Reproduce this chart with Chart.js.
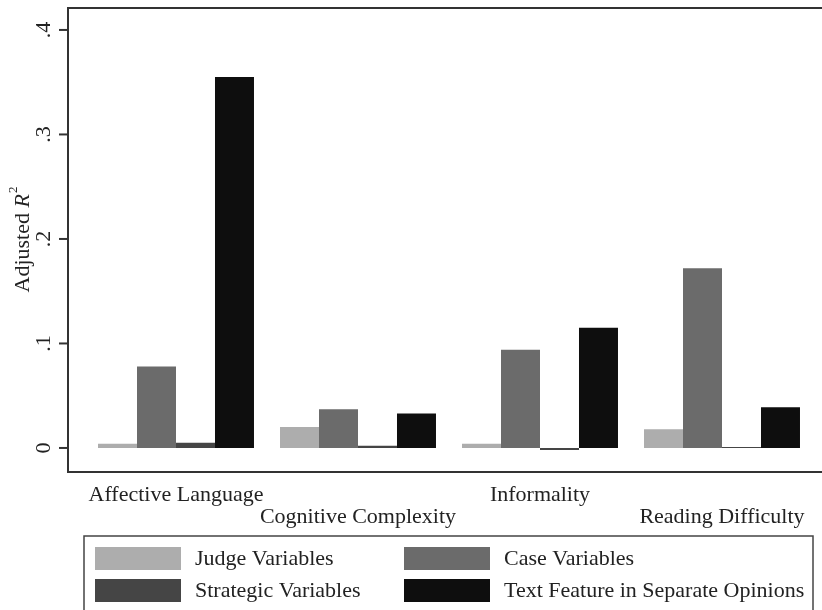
<!DOCTYPE html>
<html>
<head>
<meta charset="utf-8">
<script src="https://cdn.jsdelivr.net/npm/chart.js@4.4.1/dist/chart.umd.min.js"></script>
<style>
  body { margin: 0; background: #fff; }
  canvas { display: block; }
</style>
</head>
<body>
<canvas id="r2Chart" width="822" height="610"></canvas>
<script>
// Text features on the x axis
const categories = ['Affective Language', 'Cognitive Complexity', 'Informality', 'Reading Difficulty'];

// Adjusted R^2 for each group of predictors
const judgeValues = [0.004, 0.020, 0.004, 0.018];
const caseValues = [0.078, 0.037, 0.094, 0.172];
const strategicValues = [0.005, 0.002, -0.002, 0.001];
const textValues = [0.355, 0.033, 0.115, 0.039];

const seriesNames = ['Judge Variables', 'Case Variables', 'Strategic Variables', 'Text Feature in Separate Opinions'];
const seriesColors = ['#adadad', '#6b6b6b', '#454545', '#0e0e0e'];

// y axis ticks
const yTicks = [0, 0.1, 0.2, 0.3, 0.4];
const yTickLabels = ['0', '.1', '.2', '.3', '.4'];

const serif = '"Liberation Serif", "Times New Roman", serif';

// Draws the Stata-like frame, axis ticks, category labels and the legend box
const stataDecor = {
    id: 'stataDecor',
    afterDraw(chart) {
        const c = chart.ctx;
        const area = chart.chartArea;
        const y = chart.scales.y;
        const x = chart.scales.x;
        const frameLeft = 68;
        const frameTop = y.getPixelForValue(y.max);
        const frameBottom = y.getPixelForValue(y.min);

        c.save();
        c.strokeStyle = '#333';
        c.lineWidth = 2;
        c.beginPath();
        c.moveTo(chart.width, frameTop);
        c.lineTo(frameLeft, frameTop);
        c.lineTo(frameLeft, frameBottom);
        c.lineTo(chart.width, frameBottom);
        c.stroke();

        // y ticks + rotated labels
        c.fillStyle = '#222';
        c.font = '22px ' + serif;
        c.textAlign = 'center';
        c.textBaseline = 'middle';
        yTicks.forEach((v, i) => {
            const py = y.getPixelForValue(v);
            c.beginPath();
            c.moveTo(frameLeft - 9, py);
            c.lineTo(frameLeft, py);
            c.stroke();
            c.save();
            c.translate(44, py);
            c.rotate(-Math.PI / 2);
            c.fillText(yTickLabels[i], 0, 0);
            c.restore();
        });

        // axis title "Adjusted R^2"
        const midY = (frameTop + frameBottom) / 2;
        c.save();
        c.translate(23, midY);
        c.rotate(-Math.PI / 2);
        c.textAlign = 'left';
        c.font = '22px ' + serif;
        const w1 = c.measureText('Adjusted ').width;
        c.font = 'italic 22px ' + serif;
        const w2 = c.measureText('R').width;
        c.font = '13px ' + serif;
        const w3 = c.measureText('2').width;
        let sx = -(w1 + w2 + w3) / 2;
        c.font = '22px ' + serif;
        c.fillText('Adjusted ', sx, 0);
        sx += w1;
        c.font = 'italic 22px ' + serif;
        c.fillText('R', sx, 0);
        sx += w2 + 1;
        c.font = '13px ' + serif;
        c.fillText('2', sx, -9);
        c.restore();

        // category labels, staggered on two rows
        c.font = '22px ' + serif;
        c.textAlign = 'center';
        categories.forEach((label, i) => {
            const px = x.getPixelForValue(i);
            c.fillText(label, px, i % 2 === 0 ? 495 : 517);
        });

        // legend box
        c.strokeStyle = '#444';
        c.lineWidth = 1.5;
        c.strokeRect(84, 536, 729, 90);
        c.textAlign = 'left';
        const cols = [95, 404];
        const rows = [547, 579];
        chart.data.datasets.forEach((ds, i) => {
            const lx = cols[i % 2];
            const ly = rows[Math.floor(i / 2)];
            c.fillStyle = ds.backgroundColor;
            c.fillRect(lx, ly, 86, 23);
            c.fillStyle = '#222';
            c.fillText(ds.label, lx + 100, ly + 12);
        });
        c.restore();
    }
};

const ctx = document.getElementById('r2Chart').getContext('2d');
const allValues = [judgeValues, caseValues, strategicValues, textValues];

new Chart(ctx, {
    type: 'bar',
    data: {
        labels: categories,
        datasets: allValues.map((vals, i) => ({
            label: seriesNames[i],
            data: vals,
            backgroundColor: seriesColors[i],
            borderWidth: 0
        }))
    },
    options: {
        responsive: false,
        animation: false,
        layout: { padding: { left: 85, right: 9, top: 8, bottom: 138 } },
        datasets: {
            bar: { categoryPercentage: 0.857, barPercentage: 1 }
        },
        plugins: {
            legend: { display: false },
            tooltip: { enabled: false }
        },
        scales: {
            x: { display: false },
            y: { display: false, min: -0.023, max: 0.421 }
        }
    },
    plugins: [stataDecor]
});
</script>
</body>
</html>
